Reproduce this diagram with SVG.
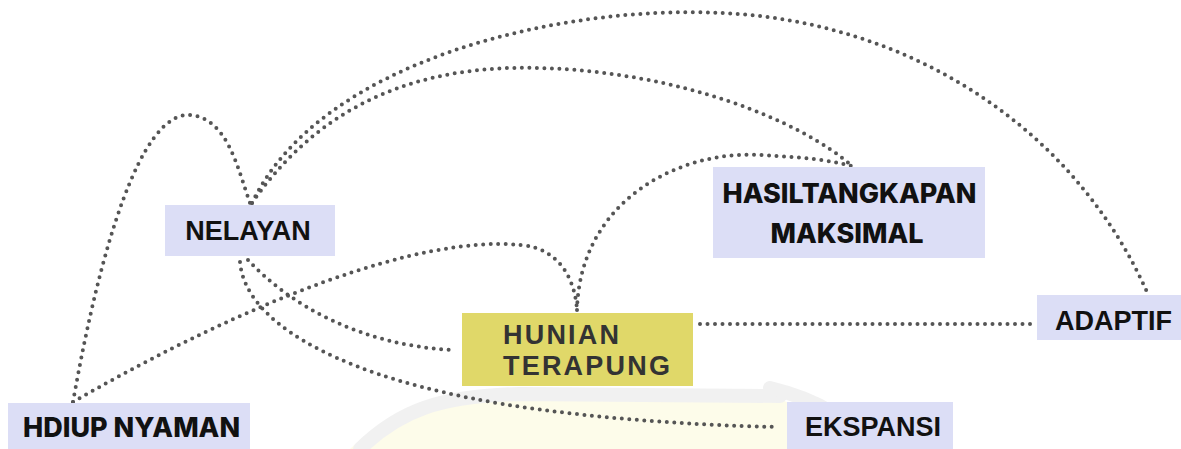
<svg xmlns="http://www.w3.org/2000/svg" width="1181" height="449" viewBox="0 0 1181 449">
  <style>
    .box { fill: #dcdef6; }
    .hub { fill: #e0d869; }
    .lbl { font-family: "Liberation Sans", Arial, sans-serif; font-weight: 700; font-size: 27px; fill: #111; }
    .geo { font-family: Inter, "Noto Sans", sans-serif; font-weight: 800; font-size: 27px; fill: #111; }
    .hubt { font-family: "Liberation Sans", Arial, sans-serif; font-weight: 700; font-size: 27px; fill: #333; letter-spacing: 2.2px; }
    .dot { fill: none; stroke: #555; stroke-width: 4; stroke-linecap: round; stroke-dasharray: 0 7.5; }
    .wm { fill: none; stroke: #ededed; stroke-width: 14; stroke-linecap: round; }
  </style>
  <rect width="1181" height="449" fill="#ffffff"/>
  <g id="watermark" opacity="0.75">
    <path d="M 350 449 C 380 420, 420 400, 470 396 L 780 398 L 860 449 Z" fill="#fdfbe3"/>
    <path class="wm" d="M 360 449 C 400 410, 440 396, 520 394 L 780 396"/>
    <path class="wm" d="M 770 388 C 820 400, 850 420, 870 449"/>
  </g>
  <g id="connectors">
    <path class="dot" d="M 73 402 C 100 250, 140 112, 190 115 C 228 118, 238 170, 250 203"/>
    <path class="dot" d="M 252 203 C 320 60, 560 5, 720 13 C 900 20, 1070 120, 1147 292"/>
    <path class="dot" d="M 252 203 C 330 90, 440 65, 540 68 C 680 72, 800 120, 852 166"/>
    <path class="dot" d="M 577 310 C 580 200, 680 150, 760 155 C 800 157, 830 160, 852 166"/>
    <path class="dot" d="M 73 402 C 250 300, 420 235, 520 245 C 560 248, 575 280, 577 310"/>
    <path class="dot" d="M 248 260 C 290 305, 360 345, 452 350"/>
    <path class="dot" d="M 240 262 C 245 320, 330 370, 470 398 C 560 416, 680 425, 778 427"/>
    <path class="dot" d="M 700 324 L 1035 324"/>
  </g>
  <g id="node-nelayan">
    <rect class="box" x="165" y="205" width="170" height="51"/>
    <text class="lbl" x="248" y="240" text-anchor="middle">NELAYAN</text>
  </g>
  <g id="node-hasil">
    <rect class="box" x="713" y="167" width="272" height="91"/>
    <text class="geo" x="849.5" y="203" text-anchor="middle">HASILTANGKAPAN</text>
    <text class="geo" x="847" y="243" text-anchor="middle">MAKSIMAL</text>
  </g>
  <g id="node-hunian">
    <rect class="hub" x="462" y="313" width="231" height="73"/>
    <text class="hubt" x="503" y="344">HUNIAN</text>
    <text class="hubt" x="503" y="375">TERAPUNG</text>
  </g>
  <g id="node-adaptif">
    <rect class="box" x="1037" y="295" width="144" height="45"/>
    <text class="lbl" x="1055" y="330">ADAPTIF</text>
  </g>
  <g id="node-hdiup">
    <rect class="box" x="8" y="403" width="242" height="46"/>
    <text class="geo" x="23" y="437">HDIUP NYAMAN</text>
  </g>
  <g id="node-ekspansi">
    <rect class="box" x="787" y="402" width="166" height="47"/>
    <text class="lbl" x="805" y="436">EKSPANSI</text>
  </g>
</svg>
